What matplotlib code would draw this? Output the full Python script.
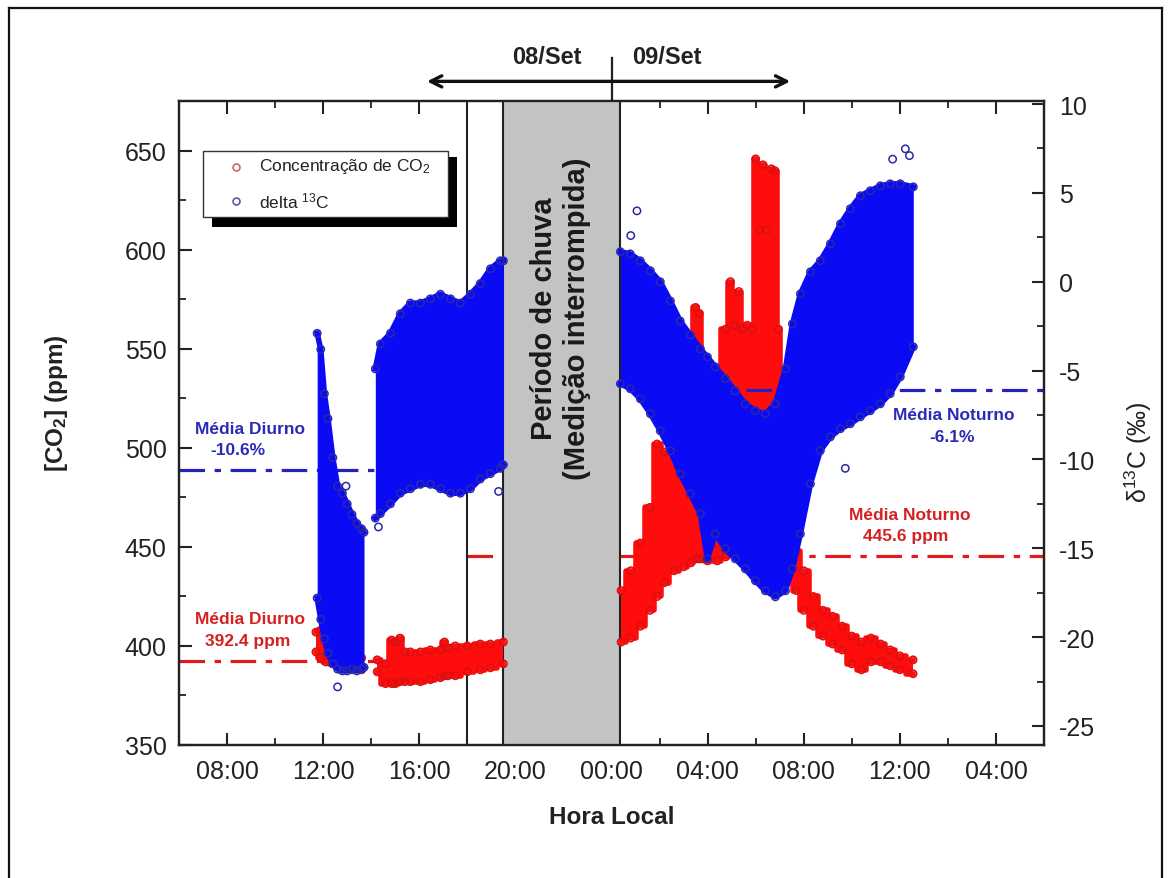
import matplotlib
matplotlib.use('Agg')
import matplotlib.pyplot as plt
from matplotlib.patches import Rectangle
from matplotlib.lines import Line2D
from matplotlib.ticker import MultipleLocator

plt.rcParams['font.family'] = ['Liberation Sans', 'DejaVu Sans']
plt.rcParams['mathtext.fontset'] = 'custom'
plt.rcParams['mathtext.rm'] = 'Liberation Sans'
plt.rcParams['mathtext.bf'] = 'Liberation Sans:bold'
plt.rcParams['mathtext.it'] = 'Liberation Sans:italic'
plt.rcParams['axes.unicode_minus'] = False

# ---------------- data (hours since 00:00 of 08/Set) ----------------
x_ticks = [8, 12, 16, 20, 24, 28, 32, 36, 40]
x_labels = ["08:00", "12:00", "16:00", "20:00", "00:00", "04:00", "08:00", "12:00", "04:00"]
co2_ticks = [350, 400, 450, 500, 550, 600, 650]
d13c_ticks = [-25, -20, -15, -10, -5, 0, 5, 10]

# delta 13C envelope (upper / lower) - segment 1
b1_t = [11.75, 11.9, 12.05, 12.2, 12.4, 12.6, 12.8, 13.0, 13.2, 13.4, 13.6, 13.7]
b1_hi = [-2.9, -3.8, -6.3, -7.7, -9.9, -11.5, -11.9, -12.5, -13.1, -13.6, -13.9, -14.1]
b1_lo = [-17.8, -19.0, -20.1, -20.9, -21.5, -21.8, -21.9, -21.9, -21.8, -21.9, -21.8, -21.7]
# segment 2
b2_t = [14.17, 14.38, 14.8, 15.21, 15.63, 16.05, 16.46, 16.88, 17.3, 17.71, 18.13, 18.54, 18.96, 19.37, 19.5]
b2_hi = [-4.9, -3.5, -2.9, -1.8, -1.2, -1.2, -0.96, -0.7, -0.96, -1.2, -0.7, -0.1, 0.73, 1.18, 1.18]
b2_lo = [-13.3, -13.05, -12.5, -11.9, -11.65, -11.4, -11.4, -11.65, -11.9, -11.9, -11.65, -11.1, -10.8, -10.5, -10.3]
# segment 3
b3_t = [24.37, 24.78, 25.20, 25.62, 26.03, 26.45, 26.86, 27.28, 27.70, 27.99, 28.32, 28.74, 29.15,
        29.57, 29.99, 30.40, 30.82, 31.24, 31.53, 31.86, 32.28, 32.69, 33.11, 33.53, 33.94, 34.36,
        34.77, 35.19, 35.60, 36.02, 36.56]
b3_hi = [1.69, 1.57, 1.18, 0.62, 0.0, -1.08, -2.21, -2.99, -3.78, -4.23, -4.79, -5.46, -6.14,
         -6.87, -7.26, -7.43, -6.87, -4.90, -2.37, -0.68, 0.56, 1.18, 2.14, 3.26, 4.11, 4.84,
         5.12, 5.40, 5.51, 5.51, 5.34]
b3_lo = [-5.74, -6.02, -6.59, -7.43, -8.39, -9.51, -10.81, -11.93, -13.06, -15.59, -14.19, -15.03, -15.59,
         -16.16, -16.83, -17.39, -17.73, -17.39, -16.16, -14.19, -11.37, -9.51, -8.73, -8.27, -7.99, -7.60,
         -7.26, -6.87, -6.30, -5.35, -3.66]
# isolated delta 13C points
b_out_t = [12.6, 12.95, 14.3, 19.3, 25.06, 24.8, 33.73, 36.23, 36.4, 35.7]
b_out_d = [-22.8, -11.5, -13.8, -11.8, 3.99, 2.6, -10.5, 7.48, 7.1, 6.9]

# CO2 envelope (upper / lower)
r1_t = [11.7, 11.9, 12.1, 12.4, 12.8, 13.2, 13.6]
r1_hi = [407, 408, 406, 400, 395, 395, 394]
r1_lo = [397, 394, 392, 391, 389, 388, 388]

r2_t = [14.25, 14.6, 14.85, 15.0, 15.2, 15.4, 15.63, 16.05, 16.46, 16.88, 17.05, 17.2, 17.5, 18.0,
        18.54, 18.96, 19.5]
r2_hi = [393, 391, 403, 402, 404, 397, 397, 397, 398, 398, 402, 399, 400, 400, 401, 401, 402]
r2_lo = [387, 381, 381, 381, 382, 382, 382, 382, 383, 384, 385, 385, 385, 387, 388, 389, 391]

r3_t = [24.4, 24.8, 25.2, 25.6, 25.9, 26.2, 26.6, 27.0, 27.3, 27.5, 27.65, 27.8, 28.0, 28.4, 28.75,
        28.95, 29.1, 29.3, 29.45, 29.65, 29.85, 30.0, 30.15, 30.3, 30.45, 30.65, 30.8, 30.95,
        31.1, 31.4, 31.7, 32.0, 32.4, 32.8, 33.2, 33.6, 34.0, 34.4, 34.8, 35.2, 35.6, 36.0, 36.55]
r3_hi = [428, 438, 452, 470, 502, 498, 496, 496, 490, 571, 568, 460, 456, 452, 560,
         584, 562, 579, 560, 562, 560, 646, 610, 643, 610, 641, 640, 560,
         470, 458, 448, 438, 425, 418, 415, 410, 405, 402, 404, 401, 398, 395, 393]
r3_lo = [402, 404, 410, 418, 425, 432, 438, 440, 442, 444, 444, 444, 443, 443, 445,
         447, 450, 450, 450, 452, 454, 455, 455, 455, 455, 452, 452, 450,
         448, 440, 428, 418, 410, 405, 401, 398, 391, 388, 392, 392, 390, 388, 386]

# means
co2_day_mean, co2_night_mean = 392.4, 445.6
d13c_day_mean, d13c_night_mean = -10.6, -6.1
co2_day_span, co2_night_span = (6, 19.5), (18, 42)
d13c_day_span, d13c_night_span = (6, 14.2), (29.6, 42)
rain_span = (19.5, 24.35)
day_change = 24
sunset_line = 18

# ---------------- figure ----------------
W, H = 1169, 879
fig = plt.figure(figsize=(W / 100, H / 100), dpi=100)
fig.patch.set_facecolor('white')


def fx(px):
    return px / W


def fy(py):
    return 1 - py / H


ax = fig.add_axes([fx(179), fy(746), fx(1044) - fx(179), fy(101.7) - fy(746)])
ax2 = ax.twinx()

ax.set_xlim(6, 42)
ax.set_ylim(350, 675.4)
ax2.set_ylim(-26.07, 10.19)

RED_F, RED_E = '#ff0d0d', '#d81010'
BLUE_F, BLUE_E = '#0a0af5', '#2a2aa8'
DARK = '#222222'


def band(axis, t, lo, hi, fill, edge, step=None, z=5):
    axis.fill_between(t, lo, hi, color=fill, lw=0, step=step, zorder=z)
    ds = 'steps-mid' if step == 'mid' else 'default'
    axis.plot(t, hi, color=fill, lw=4, drawstyle=ds, zorder=z)
    axis.plot(t, lo, color=fill, lw=4, drawstyle=ds, zorder=z)
    axis.scatter(t, hi, s=28, facecolors='none', edgecolors=edge, lw=1.1, zorder=z + 0.1)
    axis.scatter(t, lo, s=28, facecolors='none', edgecolors=edge, lw=1.1, zorder=z + 0.1)


dash = (0, (8, 3, 2, 3))
# mean lines
ax.plot(co2_day_span, [co2_day_mean] * 2, color='#e01b1b', lw=2.3, ls=dash, zorder=2)
ax.plot(co2_night_span, [co2_night_mean] * 2, color='#e01b1b', lw=2.3, ls=dash, zorder=2)

# rain period
ax.axvspan(*rain_span, facecolor='#c3c3c3', edgecolor=DARK, lw=1.5, zorder=3)
ax.axvline(sunset_line, color=DARK, lw=1.5, zorder=4)
ax.text(sum(rain_span) / 2 - 0.05, 566, 'Período de chuva\n(Medição interrompida)', rotation=90,
        ha='center', va='center', fontsize=21, fontweight='bold', linespacing=1.25,
        color='#1a1a1a', zorder=4)

# CO2 data
for t, lo, hi in [(r1_t, r1_lo, r1_hi), (r2_t, r2_lo, r2_hi), (r3_t, r3_lo, r3_hi)]:
    band(ax, t, lo, hi, RED_F, RED_E, step='mid', z=5)

# delta 13C
ax2.plot(d13c_day_span, [d13c_day_mean] * 2, color='#2222c0', lw=2.3, ls=dash, zorder=2)
ax2.plot(d13c_night_span, [d13c_night_mean] * 2, color='#2222c0', lw=2.3, ls=dash, zorder=2)
for t, lo, hi in [(b1_t, b1_lo, b1_hi), (b2_t, b2_lo, b2_hi), (b3_t, b3_lo, b3_hi)]:
    band(ax2, t, lo, hi, BLUE_F, BLUE_E, z=5)
ax2.scatter(b_out_t, b_out_d, s=28, facecolors='none', edgecolors=BLUE_E, lw=1.1, zorder=5)

# axes styling
ax.set_xticks(x_ticks)
ax.set_xticklabels(x_labels)
ax.xaxis.set_minor_locator(MultipleLocator(2))
ax.set_yticks(co2_ticks)
ax.yaxis.set_minor_locator(MultipleLocator(25))
ax2.set_yticks(d13c_ticks)
ax2.yaxis.set_minor_locator(MultipleLocator(2.5))

ax.tick_params(which='both', direction='in', top=True, right=False, labelsize=18,
               labelcolor=DARK, color=DARK)
ax.tick_params(which='major', length=9, width=1.5)
ax.tick_params(which='minor', length=5, width=1.3)
ax.tick_params(axis='y', pad=9)
ax.tick_params(axis='x', pad=10)
ax2.tick_params(which='both', direction='in', labelsize=18, labelcolor=DARK, color=DARK, pad=11)
ax2.tick_params(which='major', length=9, width=1.5)
ax2.tick_params(which='minor', length=5, width=1.3)
for a in (ax, ax2):
    for s in a.spines.values():
        s.set_linewidth(1.6)
        s.set_color(DARK)

# labels
fig.text(fx(612), fy(818), 'Hora Local', ha='center', va='center', fontsize=17.5,
         fontweight='bold', color=DARK)
fig.text(fx(57), fy(403), r'[CO$_\mathbf{2}$] (ppm)', ha='center', va='center', rotation=90,
         fontsize=17.5, fontweight='bold', color=DARK)
fig.text(fx(1138), fy(452), r'δ$^{13}$C (‰)', ha='center', va='center', rotation=90,
         fontsize=18, color=DARK)

# day arrow
xt = ax.get_xaxis_transform()
ax.annotate('', xy=(16.32, 1.030), xytext=(31.44, 1.030), xycoords=xt, textcoords=xt,
            annotation_clip=False,
            arrowprops=dict(arrowstyle='<->,head_length=0.8,head_width=0.4', lw=2.4,
                            color='#111111', shrinkA=0, shrinkB=0))
ax.plot([day_change, day_change], [1.0, 1.066], transform=xt, clip_on=False, color=DARK, lw=1.6)
ax.text(21.32, 1.068, '08/Set', transform=xt, ha='center', va='center', fontsize=17,
        fontweight='bold', color=DARK)
ax.text(26.31, 1.068, '09/Set', transform=xt, ha='center', va='center', fontsize=17,
        fontweight='bold', color=DARK)

# mean annotations
ann = dict(ha='center', va='center', fontsize=12.5, fontweight='bold')
fig.text(fx(250), fy(430), 'Média Diurno', color='#2b2bb5', **ann)
fig.text(fx(238), fy(451), f'{d13c_day_mean:.1f}%', color='#2b2bb5', **ann)
fig.text(fx(250), fy(620), 'Média Diurno', color='#d42222', **ann)
fig.text(fx(248), fy(642), f'{co2_day_mean:.1f} ppm', color='#d42222', **ann)
fig.text(fx(910), fy(515), 'Média Noturno', color='#d42222', **ann)
fig.text(fx(906), fy(536), f'{co2_night_mean:.1f} ppm', color='#d42222', **ann)
fig.text(fx(954), fy(416), 'Média Noturno', color='#2b2bb5', **ann)
fig.text(fx(952), fy(438), f'{d13c_night_mean:.1f}%', color='#2b2bb5', **ann)

# legend (drawn manually with a solid black shadow)
fig.add_artist(Rectangle((fx(212), fy(228)), fx(457) - fx(212), fy(158) - fy(228),
                         transform=fig.transFigure, facecolor='black', edgecolor='none', zorder=10))
fig.add_artist(Rectangle((fx(203), fy(218)), fx(448) - fx(203), fy(152) - fy(218),
                         transform=fig.transFigure, facecolor='white', edgecolor='#333333',
                         lw=1.0, zorder=11))
fig.add_artist(Line2D([fx(236)], [fy(168)], marker='o', ms=5, mfc='none', mec='#c86a6a', mew=1.2,
                      transform=fig.transFigure, zorder=12))
fig.add_artist(Line2D([fx(236)], [fy(202)], marker='o', ms=5, mfc='none', mec='#5a5aa8', mew=1.2,
                      transform=fig.transFigure, zorder=12))
fig.text(fx(259), fy(167), 'Concentração de CO$_2$', ha='left', va='center', fontsize=12.5,
         color=DARK, zorder=12)
fig.text(fx(259), fy(201), 'delta $^{13}$C', ha='left', va='center', fontsize=12.5,
         color=DARK, zorder=12)

# outer frame
for xs, ys in [([9, 9], [9, 879]), ([1162, 1162], [9, 879]), ([9, 1162], [9, 9])]:
    fig.add_artist(Line2D([fx(v) for v in xs], [fy(v) for v in ys], color='#111111', lw=1.6,
                          transform=fig.transFigure))

fig.savefig('out.png', dpi=100)
